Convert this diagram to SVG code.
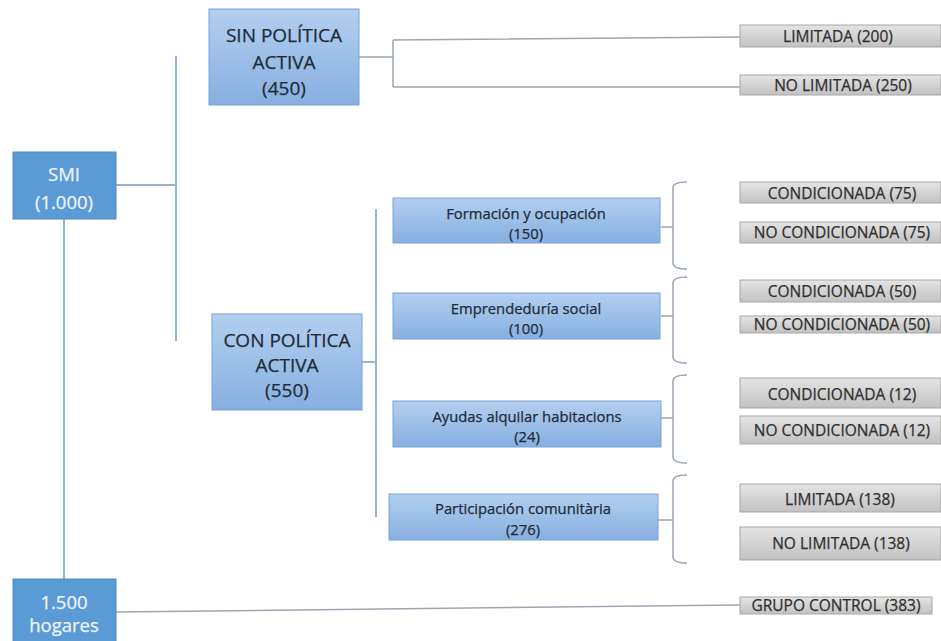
<svg xmlns="http://www.w3.org/2000/svg" width="941" height="641" viewBox="0 0 941 641">
<defs>
<linearGradient id="gBlue" x1="0" y1="0" x2="0" y2="1">
<stop offset="0" stop-color="#b3cff0"/>
<stop offset="1" stop-color="#86afe0"/>
</linearGradient>
<linearGradient id="gGray" x1="0" y1="0" x2="0" y2="1">
<stop offset="0" stop-color="#e4e4e4"/>
<stop offset="1" stop-color="#c2c2c2"/>
</linearGradient>
</defs>
<style>
.dark{fill:#5b9bd5;stroke:#4f8cc6;stroke-width:1}
.blue{fill:url(#gBlue);stroke:#7aa2d4;stroke-width:1}
.gray{fill:url(#gGray);stroke:#a8a8a8;stroke-width:1}
text{font-family:"Open Sans","Liberation Sans",sans-serif;text-anchor:middle;stroke-width:0.25}
.wt{font-size:18.5px;fill:#eef4fb;stroke:#eef4fb}
.bt{font-size:19px;fill:#1f2a36;stroke:#1f2a36}
.st{font-size:14.8px;fill:#1f2a36;stroke:#1f2a36}
.gt{font-size:15.5px;fill:#2f2f2f;stroke:#2f2f2f}
.ln{fill:none;stroke:#93b3d9;stroke-width:2}
.lg{fill:none;stroke:#9aa6b2;stroke-width:1.5}
</style>
<rect width="941" height="641" fill="#ffffff"/>
<g id="connectors">
<path class="ln" d="M116,185 H176 M176,56 V341"/>
<path class="ln" d="M64,219 V579"/>
<path class="lg" d="M359,57 H393 M393,40 V87 M393,40 Q560,38 740,37 M393,87 H740"/>
<path class="ln" d="M362,362 H376 M376,209 V517"/>
<path class="lg" d="M116,612 Q430,609 740,605"/>
<path class="lg" d="M687,182 Q673,182 673,188 V227 H661 M673,227 V263 Q673,269 687,269"/>
<path class="lg" d="M687,277 Q673,277 673,283 V316 H661 M673,316 V357 Q673,363 687,363"/>
<path class="lg" d="M687,375 Q673,375 673,381 V418 H661 M673,418 V457 Q673,463 687,463"/>
<path class="lg" d="M687,475 Q673,475 673,481 V520 H658 M673,520 V557 Q673,563 687,563"/>
</g>
<g id="smi">
<rect class="dark" x="13" y="152" width="103" height="67"/>
<text class="wt" x="64" y="181">SMI</text>
<text class="wt" x="64" y="209">(1.000)</text>
</g>
<g id="hogares">
<rect class="dark" x="13" y="579" width="103" height="64"/>
<text class="wt" x="64" y="609">1.500</text>
<text class="wt" x="64" y="632">hogares</text>
</g>
<g id="sin">
<rect class="blue" x="209" y="9" width="150" height="96"/>
<text class="bt" x="284" y="42">SIN POLÍTICA</text>
<text class="bt" x="284" y="69">ACTIVA</text>
<text class="bt" x="284" y="95">(450)</text>
</g>
<g id="con">
<rect class="blue" x="212" y="314" width="150" height="96"/>
<text class="bt" x="287" y="347">CON POLÍTICA</text>
<text class="bt" x="287" y="372">ACTIVA</text>
<text class="bt" x="287" y="397">(550)</text>
</g>
<g id="formacion">
<rect class="blue" x="393" y="198" width="267" height="45"/>
<text class="st" x="526" y="219">Formación y ocupación</text>
<text class="st" x="526" y="239">(150)</text>
</g>
<g id="emprendeduria">
<rect class="blue" x="393" y="293" width="267" height="46"/>
<text class="st" x="526" y="314">Emprendeduría social</text>
<text class="st" x="526" y="334">(100)</text>
</g>
<g id="ayudas">
<rect class="blue" x="393" y="401" width="268" height="46"/>
<text class="st" x="527" y="422">Ayudas alquilar habitacions</text>
<text class="st" x="527" y="442">(24)</text>
</g>
<g id="participacion">
<rect class="blue" x="389" y="494" width="269" height="46"/>
<text class="st" x="523" y="514">Participación comunitària</text>
<text class="st" x="523" y="535">(276)</text>
</g>
<g id="lim200"><rect class="gray" x="740" y="25" width="201" height="22"/><text class="gt" x="838" y="42">LIMITADA (200)</text></g>
<g id="nolim250"><rect class="gray" x="740" y="75" width="201" height="20"/><text class="gt" x="843" y="91">NO LIMITADA (250)</text></g>
<g id="cond75"><rect class="gray" x="740" y="182" width="201" height="21"/><text class="gt" x="842" y="199">CONDICIONADA (75)</text></g>
<g id="nocond75"><rect class="gray" x="740" y="222" width="201" height="21"/><text class="gt" x="842" y="238">NO CONDICIONADA (75)</text></g>
<g id="cond50"><rect class="gray" x="740" y="280" width="201" height="22"/><text class="gt" x="842" y="297">CONDICIONADA (50)</text></g>
<g id="nocond50"><rect class="gray" x="740" y="316" width="201" height="17"/><text class="gt" x="842" y="330">NO CONDICIONADA (50)</text></g>
<g id="cond12"><rect class="gray" x="740" y="378" width="201" height="30"/><text class="gt" x="842" y="400">CONDICIONADA (12)</text></g>
<g id="nocond12"><rect class="gray" x="740" y="416" width="201" height="28"/><text class="gt" x="842" y="436">NO CONDICIONADA (12)</text></g>
<g id="lim138"><rect class="gray" x="740" y="484" width="201" height="28"/><text class="gt" x="840" y="505">LIMITADA (138)</text></g>
<g id="nolim138"><rect class="gray" x="740" y="527" width="201" height="33"/><text class="gt" x="841" y="549">NO LIMITADA (138)</text></g>
<g id="control"><rect class="gray" x="740" y="597" width="192" height="17"/><text class="gt" x="836" y="611">GRUPO CONTROL (383)</text></g>
</svg>
